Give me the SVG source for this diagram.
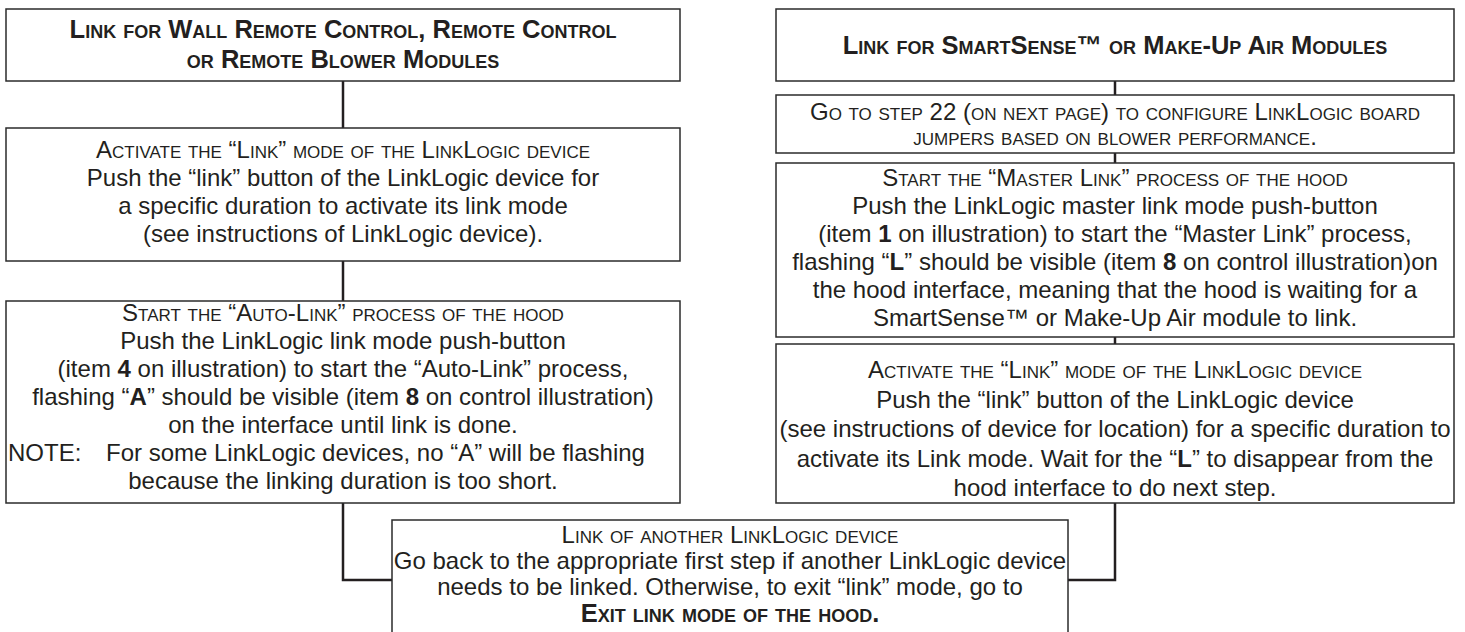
<svg xmlns="http://www.w3.org/2000/svg" width="1465" height="632" viewBox="0 0 1465 632">
<style>
.box{fill:#fff;stroke:#2b2b2b;stroke-width:1.5}
.conn{fill:none;stroke:#231f20;stroke-width:2.5}
text{font-family:"Liberation Sans",Arial,Helvetica,sans-serif;font-size:24px;fill:#231f20;text-anchor:middle}
.sc{font-variant:small-caps}
.hd{font-variant:small-caps;font-weight:bold;font-size:25.5px}
.l{text-anchor:start}
.b{font-weight:bold}
</style>
<rect width="1465" height="632" fill="#fff"/>
<g id="connectors">
<line class="conn" x1="343" y1="81" x2="343" y2="128"/>
<line class="conn" x1="343" y1="261" x2="343" y2="301"/>
<line class="conn" x1="1115" y1="81" x2="1115" y2="95"/>
<line class="conn" x1="1115" y1="153" x2="1115" y2="163"/>
<line class="conn" x1="1115" y1="337" x2="1115" y2="344"/>
<polyline class="conn" points="343,503 343,580 392,580"/>
<polyline class="conn" points="1115,503 1115,580 1068,580"/>
</g>
<g id="left-header">
<rect class="box" x="6" y="9" width="674" height="72"/>
<text class="hd" x="343" y="38">Link for Wall Remote Control, Remote Control</text>
<text class="hd" x="343" y="68">or Remote Blower Modules</text>
</g>
<g id="left-activate">
<rect class="box" x="6" y="128" width="674" height="133"/>
<text class="sc" x="343" y="158">Activate the “Link” mode of the LinkLogic device</text>
<text x="343" y="186">Push the “link” button of the LinkLogic device for</text>
<text x="343" y="214">a specific duration to activate its link mode</text>
<text x="343" y="242">(see instructions of LinkLogic device).</text>
</g>
<g id="left-autolink">
<rect class="box" x="6" y="301" width="674" height="202"/>
<text class="sc" x="343" y="321">Start the “Auto-Link” process of the hood</text>
<text x="343" y="349">Push the LinkLogic link mode push-button</text>
<text x="343" y="377">(item <tspan class="b">4</tspan> on illustration) to start the “Auto-Link” process,</text>
<text x="343" y="405">flashing “<tspan class="b">A</tspan>” should be visible (item <tspan class="b">8</tspan> on control illustration)</text>
<text x="343" y="433">on the interface until link is done.</text>
<text class="l" x="8" y="461">NOTE:</text>
<text class="l" x="106" y="461">For some LinkLogic devices, no “A” will be flashing</text>
<text x="343" y="489">because the linking duration is too short.</text>
</g>
<g id="right-header">
<rect class="box" x="776" y="9" width="678" height="72"/>
<text class="hd" x="1115" y="54">Link for SmartSense™ or Make-Up Air Modules</text>
</g>
<g id="right-step22">
<rect class="box" x="776" y="95" width="678" height="58"/>
<text class="sc" x="1115" y="120">Go to step 22 (on next page) to configure LinkLogic board</text>
<text class="sc" x="1115" y="145">jumpers based on blower performance.</text>
</g>
<g id="right-masterlink">
<rect class="box" x="776" y="163" width="678" height="174"/>
<text class="sc" x="1115" y="186">Start the “Master Link” process of the hood</text>
<text x="1115" y="214">Push the LinkLogic master link mode push-button</text>
<text x="1115" y="242">(item <tspan class="b">1</tspan> on illustration) to start the “Master Link” process,</text>
<text x="1115" y="270">flashing “<tspan class="b">L</tspan>” should be visible (item <tspan class="b">8</tspan> on control illustration)on</text>
<text x="1115" y="298">the hood interface, meaning that the hood is waiting for a</text>
<text x="1115" y="326">SmartSense™ or Make-Up Air module to link.</text>
</g>
<g id="right-activate">
<rect class="box" x="776" y="344" width="678" height="159"/>
<text class="sc" x="1115" y="378">Activate the “Link” mode of the LinkLogic device</text>
<text x="1115" y="408">Push the “link” button of the LinkLogic device</text>
<text x="1115" y="437">(see instructions of device for location) for a specific duration to</text>
<text x="1115" y="467">activate its Link mode. Wait for the “<tspan class="b">L</tspan>” to disappear from the</text>
<text x="1115" y="496">hood interface to do next step.</text>
</g>
<g id="bottom-another">
<rect class="box" x="392" y="520" width="676" height="140"/>
<text class="sc" x="730" y="543">Link of another LinkLogic device</text>
<text x="730" y="569">Go back to the appropriate first step if another LinkLogic device</text>
<text x="730" y="595">needs to be linked. Otherwise, to exit “link” mode, go to</text>
<text class="hd" x="730" y="622">Exit link mode of the hood.</text>
</g>
</svg>
